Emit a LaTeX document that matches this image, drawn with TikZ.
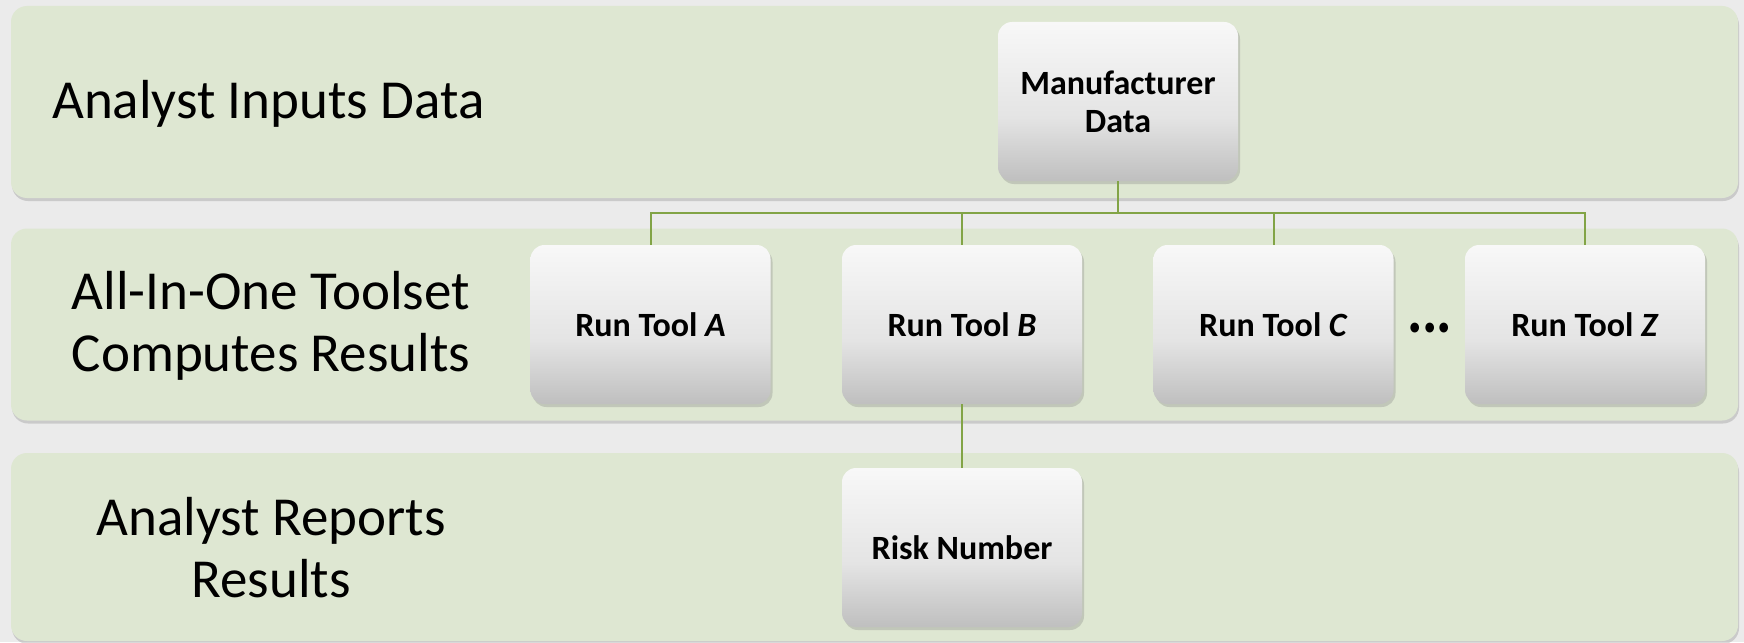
\documentclass[tikz,border=0pt]{standalone}
\usepackage{fontspec}
\setmainfont{Carlito}
\usetikzlibrary{shadows}
\definecolor{bg}{HTML}{EBEBEB}
\definecolor{bandfill}{HTML}{DEE7D2}
\definecolor{linec}{HTML}{82A446}
\definecolor{boxtop}{HTML}{F8F8F8}
\definecolor{boxmid}{HTML}{E4E4E4}
\definecolor{boxbot}{HTML}{BFBFBF}
\pgfdeclareverticalshading{boxshade}{100bp}{color(0bp)=(boxbot); color(25bp)=(boxbot); color(45bp)=(boxmid); color(75bp)=(boxtop); color(100bp)=(boxtop)}
\tikzset{
  band/.style={rectangle, rounded corners=16pt, fill=bandfill, minimum width=1727pt, minimum height=192pt, inner sep=0pt,
    drop shadow={shadow xshift=1pt, shadow yshift=-3pt, opacity=0.3}},
  stepbox/.style={rectangle, rounded corners=14pt, shade, shading=boxshade, minimum width=240pt, minimum height=159pt, inner sep=0pt,
    align=center, font=\fontsize{34}{38}\selectfont\bfseries,
    drop shadow={shadow xshift=2pt, shadow yshift=-3pt, opacity=0.3}},
  lbl/.style={inner sep=0pt, align=center, font=\fontsize{55}{62}\selectfont},
  conn/.style={draw=linec, line width=2pt},
}
\begin{document}
\begin{tikzpicture}[x=1pt, y=-1pt]
\useasboundingbox (0,0) rectangle (1744,642);
\fill[bg] (0,0) rectangle (1744,642);
% bands
\node[band] (band1) at (874.5,102) {};
\node[band] (band2) at (874.5,324.5) {};
\node[band, minimum height=188pt] (band3) at (874.5,547) {};
% band labels
\node[lbl, anchor=base west] (l1) at (52,118) {Analyst Inputs Data};
\node[lbl] (l2) at (271,326) {All-In-One Toolset\\Computes Results};
\node[lbl] (l3) at (271,548) {Analyst Reports\\Results};
% boxes
\node[stepbox] (mfr) at (1118,101.5) {Manufacturer\\Data};
\node[stepbox] (ta) at (650.5,324.5) {Run Tool \textit{A}};
\node[stepbox] (tb) at (962,324.5) {Run Tool \textit{B}};
\node[stepbox] (tc) at (1273.5,324.5) {Run Tool \textit{C}};
\node[stepbox] (tz) at (1585,324.5) {Run Tool \textit{Z}};
\node[stepbox] (risk) at (962,547.5) {Risk Number};
\node[inner sep=0pt, anchor=base, yscale=1.15, font=\fontsize{58}{58}\selectfont\bfseries\itshape\addfontfeature{LetterSpace=-2}] (dots) at (1431,332) {...};
% connectors
\coordinate (hub) at (1118,213);
\draw[conn] (mfr.south) -- (hub);
\draw[conn] (ta.north) |- (hub) -| (tz.north);
\draw[conn] (tb.north) -- (tb.north |- hub);
\draw[conn] (tc.north) -- (tc.north |- hub);
\draw[conn] (tb.south) -- (risk.north);
\end{tikzpicture}
\end{document}
